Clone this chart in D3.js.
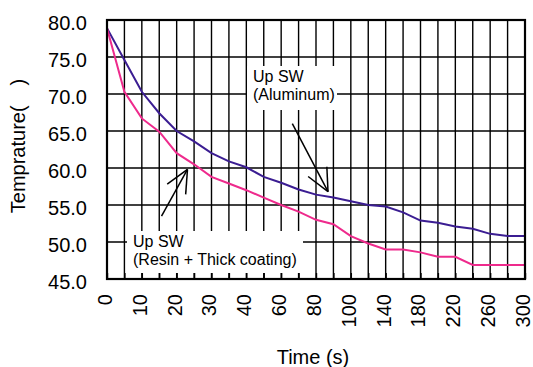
<!DOCTYPE html>
<html>
<head>
<meta charset="utf-8">
<script src="https://cdn.jsdelivr.net/npm/d3@7"></script>
<style>
  body { margin: 0; background: #fff; }
  text { font-family: "Liberation Sans", Arial, sans-serif; fill: #000; }
</style>
</head>
<body>
<div id="chart"></div>
<script>
'use strict';

// time (s) categories, evenly spaced on the axis
var categories = [0, 5, 10, 15, 20, 25, 30, 35, 40, 50, 60, 70, 80, 90, 100,
  120, 140, 160, 180, 200, 220, 240, 260, 280, 300];
var aluminum = [78.9, 74.6, 70.3, 67.4, 65.0, 63.6, 62.0, 60.9, 60.1, 58.8, 58.0, 57.1,
  56.4, 56.0, 55.5, 55.0, 54.8, 54.0, 52.9, 52.6, 52.1, 51.8, 51.1, 50.8, 50.8];
var resin = [78.9, 70.3, 66.7, 64.9, 62.0, 60.5, 58.8, 57.9, 57.0, 56.0, 55.0, 54.1,
  53.0, 52.4, 50.8, 49.8, 49.0, 49.0, 48.6, 48.0, 48.0, 46.9, 46.9, 46.9, 46.9];
var yTicks = [45, 50, 55, 60, 65, 70, 75, 80];

var width = 533;
var height = 367;
var padL = 107, padR = 525, padT = 20, padB = 279;

var svg = d3.select('#chart').append('svg')
  .attr('width', width)
  .attr('height', height);

var x = d3.scaleLinear().domain([0, categories.length - 1]).range([padL, padR]);
var y = d3.scaleLinear().domain([45, 80]).range([padB, padT]);
var idx = d3.range(categories.length);

// grid
var grid = svg.append('g').attr('stroke', '#000').attr('stroke-width', 1.4);
grid.selectAll('line.v').data(idx).enter().append('line')
  .attr('class', 'v')
  .attr('x1', function (d) { return x(d); })
  .attr('x2', function (d) { return x(d); })
  .attr('y1', padT).attr('y2', padB);
grid.selectAll('line.h').data(yTicks).enter().append('line')
  .attr('class', 'h')
  .attr('x1', padL).attr('x2', padR)
  .attr('y1', function (d) { return y(d); })
  .attr('y2', function (d) { return y(d); });

// series
var line = d3.line()
  .x(function (d, i) { return x(i); })
  .y(function (d) { return y(d); });

svg.append('path').datum(aluminum)
  .attr('fill', 'none')
  .attr('stroke', '#3b1d92')
  .attr('stroke-width', 2)
  .attr('d', line);

svg.append('path').datum(resin)
  .attr('fill', 'none')
  .attr('stroke', '#ee2a8c')
  .attr('stroke-width', 2)
  .attr('d', line);

// label boxes
function label (bx, by, bw, bh, lines) {
  svg.append('rect')
    .attr('x', bx).attr('y', by)
    .attr('width', bw).attr('height', bh)
    .attr('fill', '#fff');
  var t = svg.append('text')
    .attr('font-size', 16);
  lines.forEach(function (s, i) {
    t.append('tspan')
      .attr('x', bx + 6)
      .attr('y', by + 16 + i * 18)
      .text(s);
  });
}

label(247, 66, 90, 44, ['Up SW', '(Aluminum)']);
label(127, 231, 176, 42, ['Up SW', '(Resin + Thick coating)']);

// arrows (data coordinates: index, value)
function arrow (from, to) {
  var x1 = x(from[0]), y1 = y(from[1]);
  var x2 = x(to[0]), y2 = y(to[1]);
  var ang = Math.atan2(y1 - y2, x1 - x2);
  var len = 25, spread = 25 * Math.PI / 180;
  var g = svg.append('g').attr('stroke', '#000').attr('stroke-width', 1.5);
  g.append('line').attr('x1', x1).attr('y1', y1).attr('x2', x2).attr('y2', y2);
  [-spread, spread].forEach(function (s) {
    g.append('line')
      .attr('x1', x2).attr('y1', y2)
      .attr('x2', x2 + len * Math.cos(ang + s))
      .attr('y2', y2 + len * Math.sin(ang + s));
  });
}

arrow([10.64, 66.0], [12.69, 56.8]);
arrow([3.13, 53.5], [4.62, 59.8]);

// axes
var xAxis = d3.axisBottom(x)
  .tickValues(idx)
  .tickSize(-6)
  .tickFormat(function (d) { return d % 2 === 0 ? categories[d] : ''; });

var gx = svg.append('g')
  .attr('transform', 'translate(0,' + padB + ')')
  .call(xAxis);
gx.select('.domain').remove();
gx.selectAll('.tick line').attr('stroke', '#000').attr('stroke-width', 1.4);
gx.selectAll('.tick text')
  .attr('font-family', '"Liberation Sans", Arial, sans-serif')
  .attr('font-size', 20)
  .attr('fill', '#000')
  .attr('text-anchor', 'end')
  .attr('transform', 'rotate(-90)')
  .attr('x', -15)
  .attr('y', 0)
  .attr('dy', '0.22em');

var yAxis = d3.axisLeft(y)
  .tickValues(yTicks)
  .tickSize(0)
  .tickPadding(20)
  .tickFormat(d3.format('.1f'));

var gy = svg.append('g')
  .attr('transform', 'translate(' + padL + ',0)')
  .call(yAxis);
gy.select('.domain').remove();
gy.selectAll('.tick text')
  .attr('font-family', '"Liberation Sans", Arial, sans-serif')
  .attr('font-size', 20)
  .attr('fill', '#000')
  .attr('dy', '0.45em');

// frame
svg.append('rect')
  .attr('x', padL).attr('y', padT)
  .attr('width', padR - padL).attr('height', padB - padT)
  .attr('fill', 'none')
  .attr('stroke', '#000')
  .attr('stroke-width', 2.2);

// titles
svg.append('text')
  .attr('x', 313).attr('y', 364)
  .attr('text-anchor', 'middle')
  .attr('font-size', 20)
  .text('Time (s)');

svg.append('text')
  .attr('transform', 'translate(25,146) rotate(-90)')
  .attr('text-anchor', 'middle')
  .attr('font-size', 20)
  .text('Temprature(\u2003)');
</script>
</body>
</html>
